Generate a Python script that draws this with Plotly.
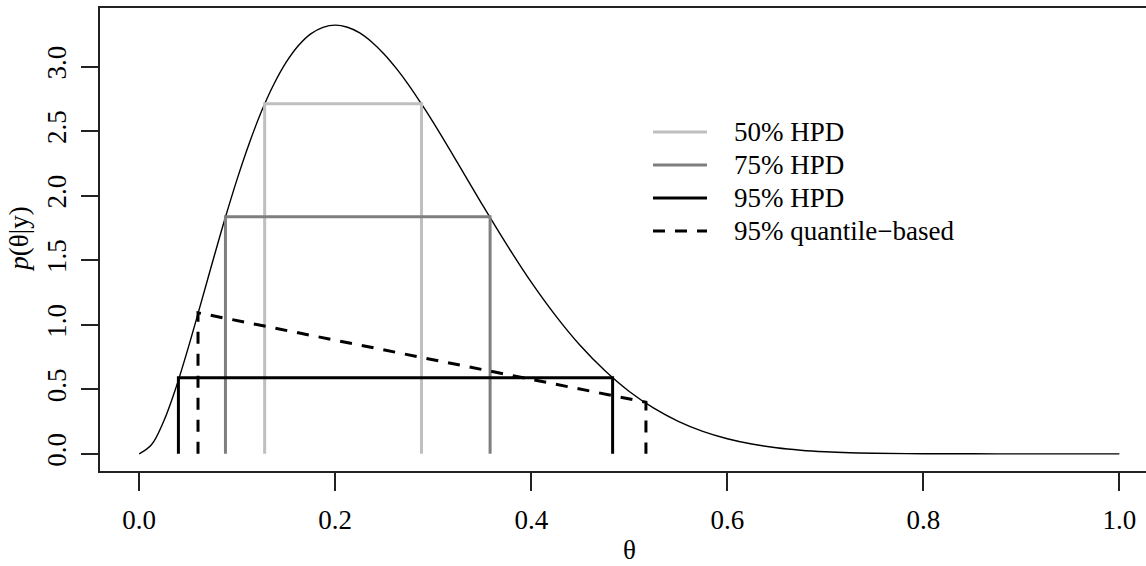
import plotly.graph_objects as go

# Posterior density
theta = [0.0, 0.0125, 0.025, 0.0375, 0.05, 0.0625, 0.075, 0.0875, 0.1, 0.1125, 0.125, 0.1375,
         0.15, 0.1625, 0.175, 0.1875, 0.2, 0.2125, 0.225, 0.2375, 0.25, 0.2625, 0.275, 0.2875,
         0.3, 0.325, 0.35, 0.375, 0.4, 0.425, 0.45, 0.475,
         0.5, 0.525, 0.55, 0.575, 0.6, 0.625, 0.65, 0.675, 0.7, 0.725, 0.75, 0.8,
         0.85, 0.9, 0.95, 1.0]
density = [0.0, 0.070, 0.253, 0.513, 0.821, 1.154, 1.492, 1.822, 2.131, 2.411, 2.658, 2.866,
           3.035, 3.164, 3.254, 3.305, 3.322, 3.306, 3.262, 3.190, 3.097, 2.985, 2.858, 2.717,
           2.568, 2.253, 1.932, 1.621, 1.330, 1.069, 0.839, 0.645,
           0.483, 0.354, 0.252, 0.174, 0.117, 0.076, 0.047, 0.028, 0.016, 0.0085, 0.0043, 0.0008,
           0.0001, 0.0, 0.0, 0.0]

# Intervals: (label, lower, upper, height)
hpd_labels = ["50% HPD", "75% HPD", "95% HPD"]
hpd_lower = [0.128, 0.088, 0.040]
hpd_upper = [0.288, 0.358, 0.483]
hpd_height = [2.713, 1.837, 0.589]
hpd_colors = ["#bfbfbf", "#7f7f7f", "#000000"]

q_label = "95% quantile\u2212based"
q_lower, q_upper = 0.060, 0.517
q_h_lower, q_h_upper = 1.093, 0.400

xticks = [0.0, 0.2, 0.4, 0.6, 0.8, 1.0]
yticks = [0.0, 0.5, 1.0, 1.5, 2.0, 2.5, 3.0]

FONT = "Liberation Serif"
FS = 27

fig = go.Figure()
fig.add_trace(go.Scatter(x=theta, y=density, mode="lines",
                         line=dict(color="black", width=1.4, shape="spline", smoothing=1.0),
                         showlegend=False, hoverinfo="skip"))

for lab, lo, hi, h, c in zip(hpd_labels, hpd_lower, hpd_upper, hpd_height, hpd_colors):
    fig.add_trace(go.Scatter(x=[lo, lo, hi, hi], y=[0, h, h, 0], mode="lines",
                             line=dict(color=c, width=3), showlegend=False, name=lab))

fig.add_trace(go.Scatter(x=[q_lower, q_lower, q_upper, q_upper], y=[0, q_h_lower, q_h_upper, 0],
                         mode="lines", line=dict(color="black", width=3, dash="12px,10px"),
                         showlegend=False, name=q_label))

# manual legend (paper coordinates derived from plot box)
L, R_, T, B = 100, 1146, 8, 471
def px(x):
    return (x - L) / (R_ - L)
def py(y):
    return (B - y) / (B - T)

leg_rows = [132, 165, 198, 231]
leg_items = list(zip(hpd_labels + [q_label], hpd_colors + ["#000000"], ["solid"] * 3 + ["12px,10px"]))
for yrow, (lab, c, d) in zip(leg_rows, leg_items):
    fig.add_shape(type="line", xref="paper", yref="paper", x0=px(653), x1=px(707), y0=py(yrow), y1=py(yrow),
                  line=dict(color=c, width=3, dash=d if d != "solid" else None))
    fig.add_annotation(xref="paper", yref="paper", x=px(732), y=py(yrow), text=lab, showarrow=False,
                       xanchor="left", yanchor="middle", font=dict(family=FONT, size=FS, color="black"))

# axis titles
fig.add_annotation(xref="x", yref="paper", x=0.5, y=py(566), text="\u03b8", showarrow=False,
                   xanchor="center", yanchor="bottom", borderpad=0,
                   font=dict(family=FONT, size=FS, color="black"))
fig.add_annotation(xref="paper", yref="y", x=px(19), y=1.66, text="<i>p</i>(\u03b8|y)", showarrow=False,
                   textangle=-90, xanchor="center", yanchor="middle", font=dict(family=FONT, size=FS, color="black"))

fig.update_layout(
    width=1146, height=566,
    margin=dict(l=L, r=0, t=T, b=566 - B, pad=0, autoexpand=False),
    paper_bgcolor="white", plot_bgcolor="white",
    font=dict(family=FONT, size=FS, color="black"),
    showlegend=False,
)
fig.update_xaxes(range=[-0.04, 1.0272], tickvals=xticks, tickformat=".1f", ticks="outside", ticklen=18,
                 tickwidth=1.5, tickcolor="#222", showline=True, linecolor="#222", linewidth=1.5, mirror=True,
                 showgrid=False, zeroline=False, ticklabelstandoff=6, automargin=False)
fig.update_yaxes(range=[-0.133, 3.455], tickvals=yticks, tickformat=".1f", ticks="outside", ticklen=17,
                 tickwidth=1.5, tickcolor="#222", showline=True, linecolor="#222", linewidth=1.5,
                 showgrid=False, zeroline=False, tickangle=-90, ticklabelstandoff=4, automargin=False)

fig.write_html("out.html", config={"displayModeBar": False},
               post_script="document.body.style.margin='0';document.body.style.overflow='hidden';")
